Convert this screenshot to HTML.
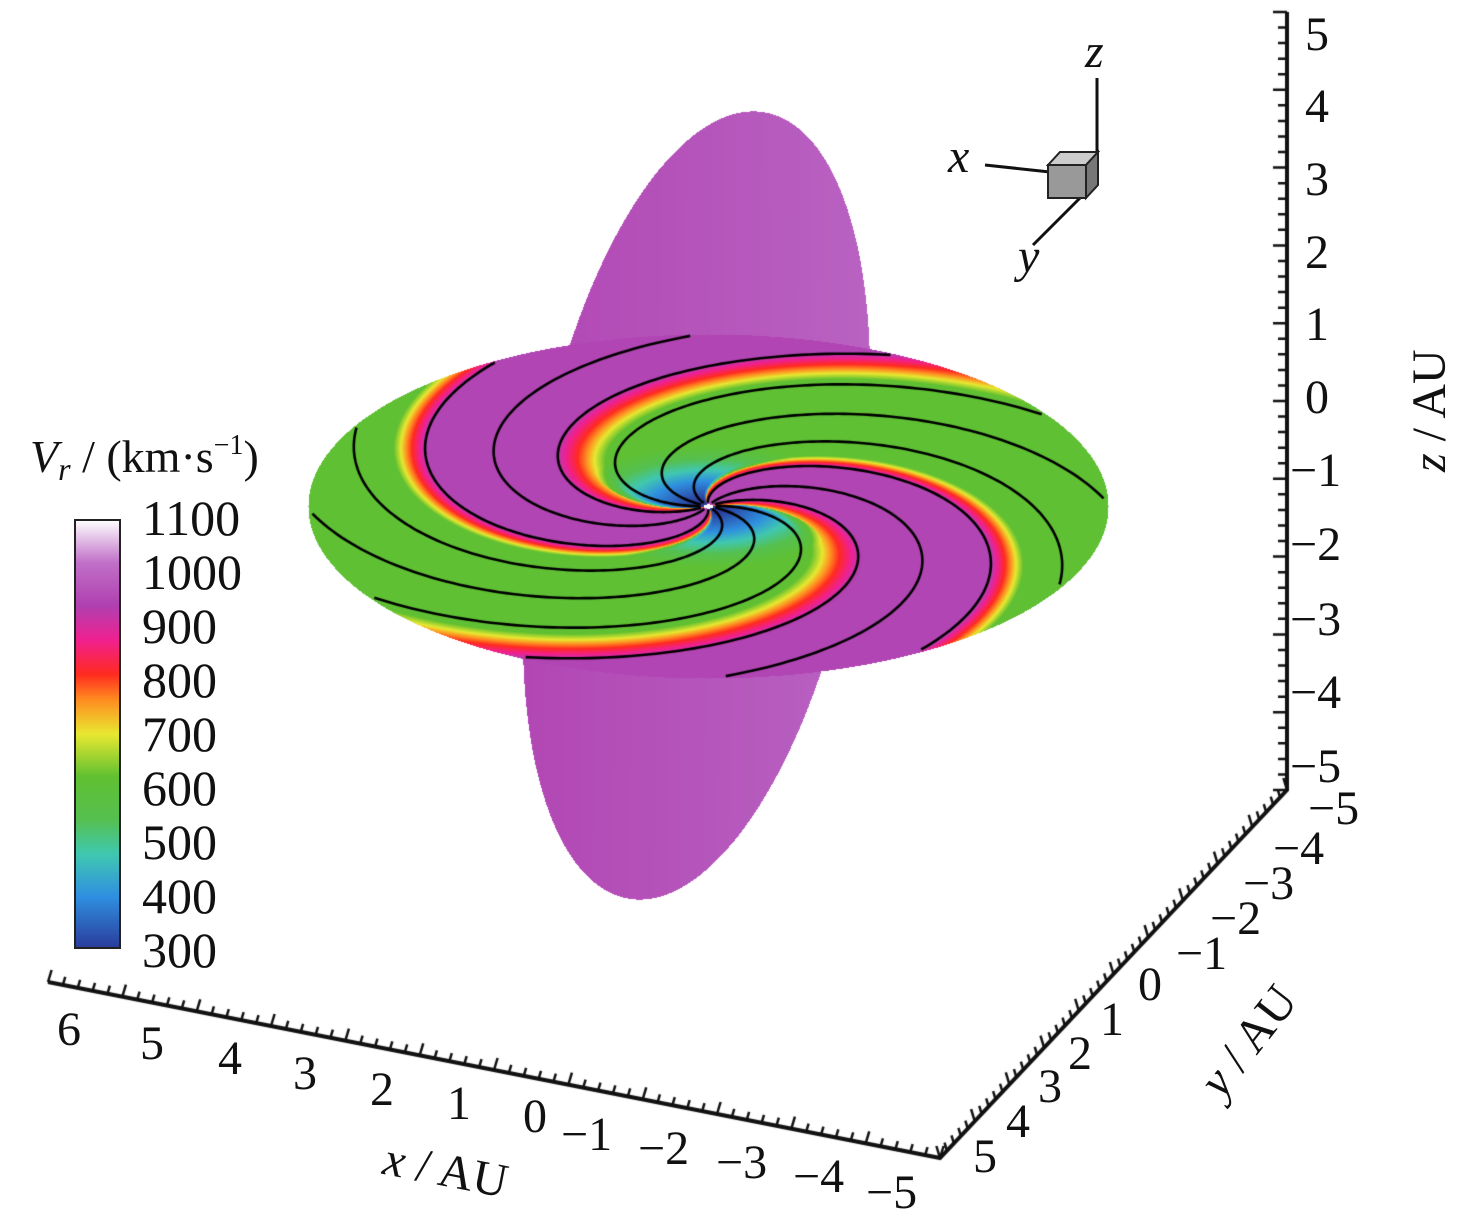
<!DOCTYPE html>
<html><head><meta charset="utf-8"><style>
html,body{margin:0;padding:0;background:#fff;}
#wrap{position:relative;width:1476px;height:1230px;overflow:hidden;}
canvas,svg{position:absolute;left:0;top:0;}
text{font-family:"Liberation Serif",serif;fill:#111;}
</style></head><body><div id="wrap">
<canvas id="c" width="1476" height="1230"></canvas>
<svg width="1476" height="1230" viewBox="0 0 1476 1230">
<defs><linearGradient id="cb" x1="0" y1="1" x2="0" y2="0">
<stop offset="0" stop-color="#2a3c9c"/><stop offset="0.12" stop-color="#2f8fe0"/><stop offset="0.22" stop-color="#40c8b0"/><stop offset="0.3" stop-color="#55c050"/><stop offset="0.4" stop-color="#60c030"/><stop offset="0.5" stop-color="#e8e830"/><stop offset="0.58" stop-color="#ff8c20"/><stop offset="0.64" stop-color="#ff2a20"/><stop offset="0.72" stop-color="#f02090"/><stop offset="0.8" stop-color="#b040b0"/><stop offset="0.9" stop-color="#c070c8"/><stop offset="1" stop-color="#ffffff"/></linearGradient></defs>
<rect x="75" y="520" width="45" height="428" fill="url(#cb)" stroke="#222" stroke-width="2"/>
<text x="30" y="472" font-size="46"><tspan font-style="italic">V</tspan><tspan font-style="italic" font-size="32" dy="8">r</tspan><tspan dy="-8"> / (km·s</tspan><tspan font-size="28" dy="-18">−1</tspan><tspan dy="18">)</tspan></text>
<g font-size="50">
<text x="142" y="535">1100</text><text x="142" y="589">1000</text><text x="142" y="643">900</text><text x="142" y="697">800</text><text x="142" y="751">700</text><text x="142" y="805">600</text><text x="142" y="859">500</text><text x="142" y="913">400</text><text x="142" y="967">300</text>
</g>
<g font-size="48">
<text x="1305" y="50">5</text><text x="1305" y="122">4</text><text x="1305" y="195">3</text><text x="1305" y="268">2</text><text x="1305" y="340">1</text><text x="1305" y="413">0</text>
<text x="1290" y="486">−1</text><text x="1290" y="560">−2</text><text x="1290" y="635">−3</text><text x="1290" y="708">−4</text><text x="1290" y="782">−5</text>
<text transform="translate(1445,472) rotate(-90)" font-style="italic">z<tspan font-style="normal"> / AU</tspan></text>
<text x="1308" y="824">−5</text><text x="1273" y="864">−4</text><text x="1243" y="899">−3</text><text x="1210" y="934">−2</text><text x="1176" y="969">−1</text><text x="1138" y="1000">0</text><text x="1100" y="1035">1</text><text x="1068" y="1069">2</text><text x="1038" y="1102">3</text><text x="1006" y="1137">4</text><text x="973" y="1172">5</text>
<text transform="translate(1222,1100) rotate(-52)" font-style="italic">y<tspan font-style="normal"> / AU</tspan></text>
<text x="57" y="1045">6</text><text x="140" y="1059">5</text><text x="218" y="1074">4</text><text x="293" y="1089">3</text><text x="370" y="1105">2</text><text x="447" y="1119">1</text><text x="523" y="1132">0</text>
<text x="561" y="1150">−1</text><text x="638" y="1164">−2</text><text x="716" y="1178">−3</text><text x="793" y="1192">−4</text><text x="866" y="1208">−5</text>
<text x="380" y="1187" font-style="italic" transform="rotate(11 450 1187)">x<tspan font-style="normal"> / AU</tspan></text>
<text x="1085" y="67" font-style="italic">z</text><text x="948" y="172" font-style="italic">x</text><text x="1018" y="272" font-style="italic">y</text>
</g>
<g stroke="#111" stroke-width="3" fill="none">
<line x1="1097" y1="78" x2="1097" y2="160"/><line x1="985" y1="165" x2="1050" y2="172"/><line x1="1083" y1="195" x2="1033" y2="245"/>
</g>
<polygon points="1048,165 1060,152 1098,152 1086,165" fill="#ccc" stroke="#222" stroke-width="2"/>
<rect x="1048" y="165" width="38" height="33" fill="#999" stroke="#222" stroke-width="2"/>
<polygon points="1086,165 1098,152 1098,185 1086,198" fill="#777" stroke="#222" stroke-width="2"/>
</svg>
<script>
const cv=document.getElementById('c'),g=cv.getContext('2d');
const W=1476,H=1230;
const stops=[[300,[42,60,156]],[400,[47,143,224]],[460,[64,200,176]],[520,[85,192,80]],[600,[96,192,48]],[680,[232,232,48]],[740,[255,140,32]],[800,[255,42,32]],[880,[240,32,144]],[950,[176,64,176]],[1020,[185,100,195]],[1100,[255,255,255]]];
function cmap(v){if(v<=stops[0][0])return stops[0][1];for(let i=1;i<stops.length;i++){if(v<=stops[i][0]){const a=stops[i-1],b=stops[i],t=(v-a[0])/(b[0]-a[0]);return a[1].map((x,k)=>x+(b[1][k]-x)*t);}}return stops[stops.length-1][1];}
const img=g.createImageData(W,H),d=img.data;
for(let i=0;i<d.length;i+=4){d[i]=d[i+1]=d[i+2]=255;d[i+3]=255;}
function put(x,y,c){const i=(y*W+x)*4;d[i]=c[0];d[i+1]=c[1];d[i+2]=c[2];}
// vertical plane
const vcx=696,vcy=505,va=399,vb=162,ang=-0.172;
const ca=Math.cos(ang),sa=Math.sin(ang);
for(let y=100;y<910;y++)for(let x=520;x<900;x++){const dx=x-vcx,dy=y-vcy;const p=dx*ca-dy*sa,q=dx*sa+dy*ca;const r=(p/vb)**2+(q/va)**2;if(r<=1){let v=990+(p/vb)*25-(q/va)*10;put(x,y,cmap(v));}}
// disk
const cx=708,cy=506,rx=400,ry=172,k=2.7,c0=0.25*Math.PI-2.7;
for(let y=330;y<685;y++)for(let x=305;x<1112;x++){const u=(x-cx)/rx,v=(y-cy)/ry;const r=Math.sqrt(u*u+v*v);if(r>1)continue;
const th=Math.atan2(v,u);let s=((-th+k*r+c0)/Math.PI)%1;if(s<0)s+=1;
let val;if(s<0.45)val=590;else if(s<0.6)val=590+(s-0.45)/0.15*370;else if(s<0.92)val=960;else val=960-(s-0.92)/0.08*370;
if(r<0.35&&val<700)val-=(0.35-r)/0.35*330;
if(r<0.012)val=1100;
put(x,y,cmap(val));}
g.putImageData(img,0,0);
// streamlines
g.strokeStyle='#000';g.lineWidth=2.6;
for(let j=0;j<12;j++){const a=j*Math.PI/6+0.1;g.beginPath();for(let t=0;t<=120;t++){const r=0.02+t/120*(0.97);const th=k*r-a;const x=cx+r*rx*Math.cos(th),y=cy+r*ry*Math.sin(th);if(t==0)g.moveTo(x,y);else g.lineTo(x,y);}g.stroke();}
// axes
g.strokeStyle='#111';g.lineWidth=4;
g.beginPath();g.moveTo(1287,12);g.lineTo(1287,790);g.lineTo(940,1158);g.lineTo(48,982);g.stroke();
g.lineWidth=2.5;g.beginPath();
for(let i=0;i<=50;i++){const y=12+i*(778/50);const L=i%5==0?14:9;g.moveTo(1287,y);g.lineTo(1287-L,y);}
for(let i=0;i<=50;i++){const t=i/50;const x=1287+(940-1287)*t,y=790+(1158-790)*t;const L=i%5==0?12:8;g.moveTo(x,y);g.lineTo(x-L*0.3,y-L);}
for(let i=0;i<=60;i++){const t=i/60;const x=48+(940-48)*t,y=982+(1158-982)*t;const L=i%5==0?12:8;g.moveTo(x,y);g.lineTo(x+L*0.3,y-L);}
g.stroke();
</script>
</div></body></html>
